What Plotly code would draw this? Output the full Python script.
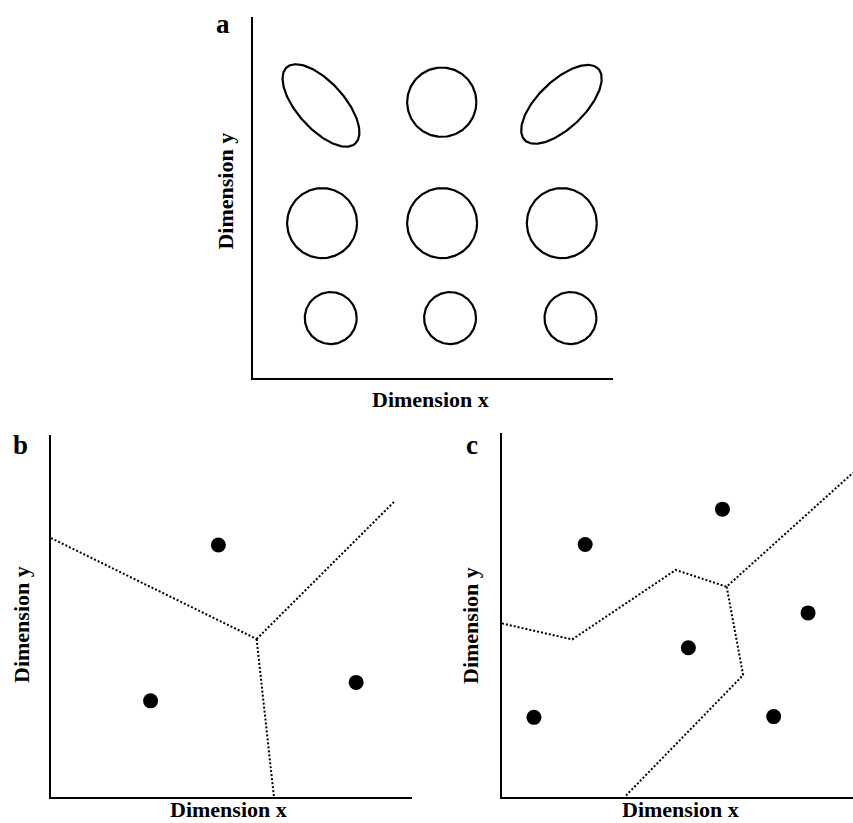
import numpy as np
import plotly.graph_objects as go

W, H = 853, 823

# ---- panel a: category regions drawn as ellipses (centre, semi-axes, tilt in degrees)
a_cx = [1.90, 5.25, 8.57, 1.93, 5.26, 8.58, 2.17, 5.48, 8.82]
a_cy = [7.55, 7.64, 7.58, 4.29, 4.29, 4.29, 1.66, 1.66, 1.66]
a_major = [1.42, 0.96, 1.42, 0.97, 0.97, 0.97, 0.72, 0.72, 0.72]
a_minor = [0.65, 0.96, 0.65, 0.97, 0.97, 0.97, 0.72, 0.72, 0.72]
a_tilt = [-48, 0, 44, 0, 0, 0, 0, 0, 0]

# ---- panel b: three prototypes and their partition boundaries
b_px = [4.64, 2.76, 8.46]
b_py = [6.96, 2.65, 3.16]
b_edges_x = [[0.00, 5.70], [5.70, 9.52], [5.70, 6.18]]
b_edges_y = [[7.15, 4.36], [4.36, 8.16], [4.36, 0.00]]

# ---- panel c: six prototypes and their partition boundaries
c_px = [2.37, 6.28, 8.72, 5.31, 0.91, 7.74]
c_py = [6.93, 7.90, 5.05, 4.09, 2.18, 2.20]
c_edges_x = [[0.00, 2.00, 4.95, 6.40, 10.0], [6.40, 6.87, 3.50]]
c_edges_y = [[4.76, 4.32, 6.23, 5.77, 8.90], [5.77, 3.34, 0.00]]

FONT = "Liberation Serif, Times New Roman, serif"


def xdom(p0, p1):
    return [p0 / W, p1 / W]


def ydom(top, bottom):
    return [1 - bottom / H, 1 - top / H]


fig = go.Figure()

# ellipse outlines for panel a
t = np.linspace(0, 2 * np.pi, 181)
for cx, cy, ra, rb, ang in zip(a_cx, a_cy, a_major, a_minor, a_tilt):
    th = np.deg2rad(ang)
    ex = ra * np.cos(t)
    ey = rb * np.sin(t)
    fig.add_trace(go.Scatter(
        x=cx + ex * np.cos(th) - ey * np.sin(th),
        y=cy + ex * np.sin(th) + ey * np.cos(th),
        mode="lines", line=dict(color="black", width=2.2),
        xaxis="x", yaxis="y", hoverinfo="skip", showlegend=False))

# boundaries and prototypes, panel b
for ex_, ey_ in zip(b_edges_x, b_edges_y):
    fig.add_trace(go.Scatter(x=ex_, y=ey_, mode="lines",
                             line=dict(color="black", width=2, dash="2px,2px"),
                             xaxis="x2", yaxis="y2", showlegend=False))
fig.add_trace(go.Scatter(x=b_px, y=b_py, mode="markers",
                         marker=dict(color="black", size=15),
                         xaxis="x2", yaxis="y2", showlegend=False))

# boundaries and prototypes, panel c
for ex_, ey_ in zip(c_edges_x, c_edges_y):
    fig.add_trace(go.Scatter(x=ex_, y=ey_, mode="lines",
                             line=dict(color="black", width=2, dash="2px,2px"),
                             xaxis="x3", yaxis="y3", showlegend=False))
fig.add_trace(go.Scatter(x=c_px, y=c_py, mode="markers",
                         marker=dict(color="black", size=15),
                         xaxis="x3", yaxis="y3", showlegend=False))

axis_style = dict(range=[0, 10], showgrid=False, zeroline=False,
                  showticklabels=False, ticks="", showline=True,
                  linecolor="black", linewidth=2, mirror=False, fixedrange=True)

fig.update_layout(
    width=W, height=H,
    margin=dict(l=0, r=0, t=0, b=0),
    paper_bgcolor="white", plot_bgcolor="white",
    xaxis=dict(domain=xdom(252.5, 613), anchor="y", **axis_style),
    yaxis=dict(domain=ydom(17, 378), anchor="x", **axis_style),
    xaxis2=dict(domain=xdom(51, 411.7), anchor="y2", **axis_style),
    yaxis2=dict(domain=ydom(435, 796.7), anchor="x2", **axis_style),
    xaxis3=dict(domain=xdom(502, 853), anchor="y3", **axis_style),
    yaxis3=dict(domain=ydom(432.7, 796.7), anchor="x3", **axis_style),
)


def note(text, px, py, size, angle=0, yanchor="middle", pad=1):
    fig.add_annotation(text=f"<b>{text}</b>", x=px / W, y=1 - py / H,
                       xref="paper", yref="paper", showarrow=False,
                       xanchor="center", yanchor=yanchor, textangle=angle,
                       borderpad=pad,
                       font=dict(family=FONT, size=size, color="black"))


# panel letters
note("a", 223.3, 23.6, 27)
note("b", 20.3, 445.2, 27)
note("c", 471.5, 445.2, 27)

# axis titles
note("Dimension x", 430.0, 399.9, 22)
note("Dimension x", 228.3, 823.0, 22, yanchor="bottom", pad=0)
note("Dimension x", 680.8, 823.0, 22, yanchor="bottom", pad=0)
note("Dimension y", 224.6, 191.0, 22, -90)
note("Dimension y", 21.0, 625.0, 22, -90)
note("Dimension y", 470.0, 626.0, 22, -90)

fig.write_html("out.html")
